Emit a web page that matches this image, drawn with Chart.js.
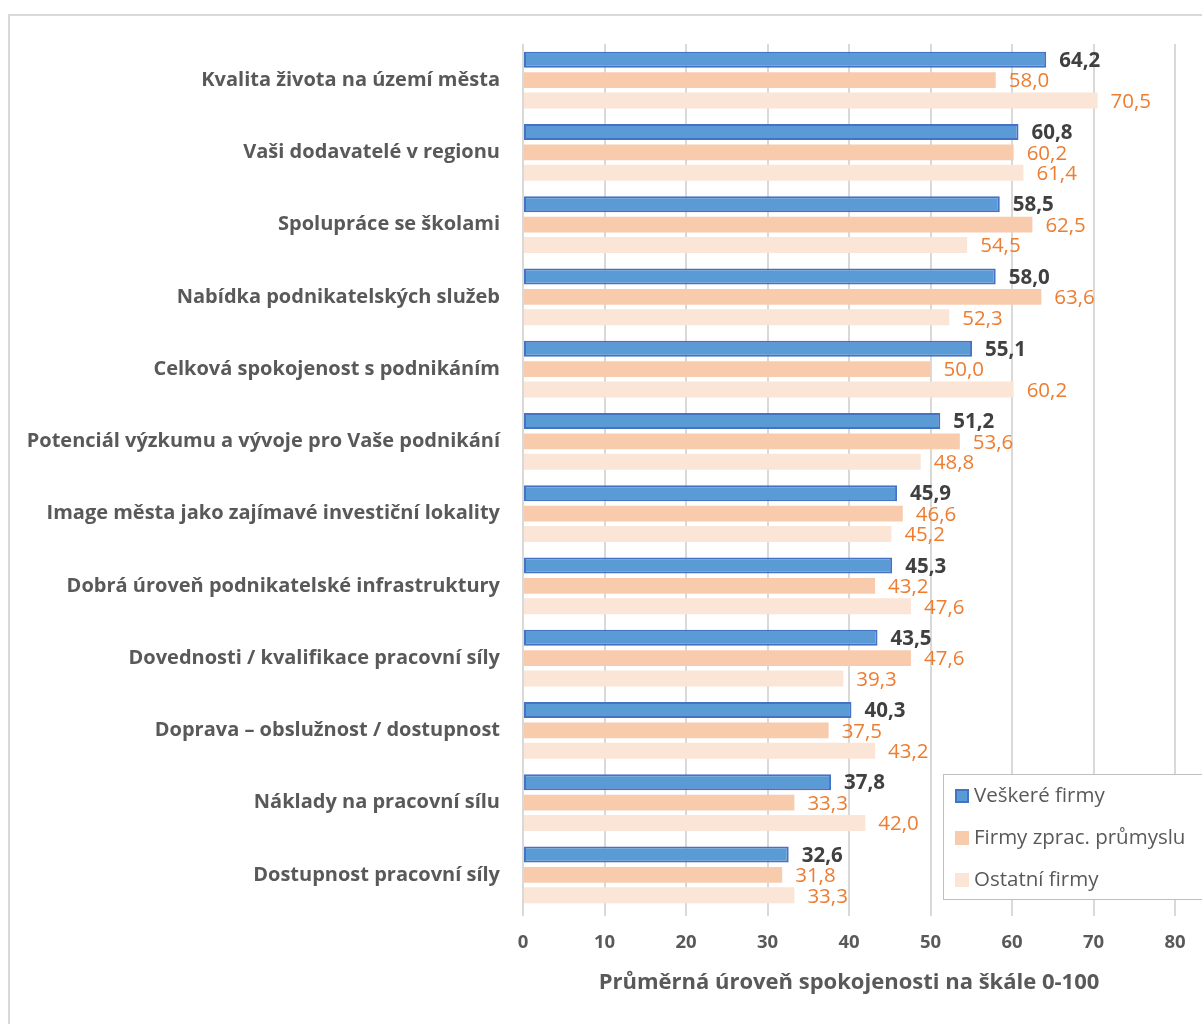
<!DOCTYPE html>
<html>
<head>
<meta charset="utf-8">
<script src="https://cdn.jsdelivr.net/npm/chart.js@4.4.0/dist/chart.umd.min.js"></script>
<style>
html,body{margin:0;padding:0;background:#fff;}
canvas{display:block;}
</style>
</head>
<body>
<canvas id="c" width="1202" height="1024"></canvas>
<script>
const categories = [
  "Kvalita života na území města",
  "Vaši dodavatelé v regionu",
  "Spolupráce se školami",
  "Nabídka podnikatelských služeb",
  "Celková spokojenost s podnikáním",
  "Potenciál výzkumu a vývoje pro Vaše podnikání",
  "Image města jako zajímavé investiční lokality",
  "Dobrá úroveň podnikatelské infrastruktury",
  "Dovednosti / kvalifikace pracovní síly",
  "Doprava – obslužnost / dostupnost",
  "Náklady na pracovní sílu",
  "Dostupnost pracovní síly"
];
const seriesNames = ["Veškeré firmy", "Firmy zprac. průmyslu", "Ostatní firmy"];
const vsechnyFirmy = [64.2, 60.8, 58.5, 58.0, 55.1, 51.2, 45.9, 45.3, 43.5, 40.3, 37.8, 32.6];
const zpracPrumysl = [58.0, 60.2, 62.5, 63.6, 50.0, 53.6, 46.6, 43.2, 47.6, 37.5, 33.3, 31.8];
const ostatniFirmy = [70.5, 61.4, 54.5, 52.3, 60.2, 48.8, 45.2, 47.6, 39.3, 43.2, 42.0, 33.3];
const xTicks = [0, 10, 20, 30, 40, 50, 60, 70, 80];
const axisTitle = "Průměrná úroveň spokojenosti na škále 0-100";

const FONT = "'Open Sans', 'DejaVu Sans', sans-serif";
const GREY = "#595959";

const outerBorder = {
  id: 'outerBorder',
  beforeDraw(chart) {
    const ctx = chart.ctx;
    ctx.save();
    ctx.fillStyle = '#fff';
    ctx.fillRect(0, 0, chart.width, chart.height);
    ctx.strokeStyle = '#D9D9D9';
    ctx.lineWidth = 2;
    ctx.strokeRect(9, 15, chart.width + 20, chart.height + 20);
    ctx.restore();
  }
};

const valueLabels = {
  id: 'valueLabels',
  afterDatasetsDraw(chart) {
    const ctx = chart.ctx;
    ctx.save();
    ctx.textBaseline = 'middle';
    ctx.textAlign = 'left';
    chart.data.datasets.forEach((ds, di) => {
      const meta = chart.getDatasetMeta(di);
      meta.data.forEach((el, i) => {
        const v = ds.data[i];
        const txt = v.toFixed(1).replace('.', ',');
        if (di === 0) {
          ctx.font = "bold 20.5px " + FONT;
          ctx.fillStyle = '#404040';
        } else {
          ctx.font = "20.5px " + FONT;
          ctx.fillStyle = '#ED7D31';
        }
        ctx.fillText(txt, el.x + 13, el.y + 1.5);
      });
    });
    ctx.restore();
  }
};

const customLegend = {
  id: 'customLegend',
  afterDraw(chart) {
    const ctx = chart.ctx;
    ctx.save();
    const bx = 943, by = 774, bw = 260, bh = 126;
    ctx.fillStyle = '#fff';
    ctx.fillRect(bx, by, bw, bh);
    ctx.strokeStyle = '#BFBFBF';
    ctx.lineWidth = 1;
    ctx.strokeRect(bx + 0.5, by + 0.5, bw - 1, bh - 1);
    ctx.font = "20.5px " + FONT;
    ctx.textBaseline = 'middle';
    ctx.textAlign = 'left';
    chart.data.datasets.forEach((ds, i) => {
      const cy = 796 + i * 42;
      ctx.fillStyle = ds.backgroundColor;
      ctx.fillRect(955, cy - 7, 14, 14);
      if (ds.borderWidth) {
        ctx.strokeStyle = ds.borderColor;
        ctx.lineWidth = 2;
        ctx.strokeRect(956, cy - 6, 12, 12);
      }
      ctx.fillStyle = GREY;
      ctx.fillText(ds.label, 974, cy);
    });
    ctx.restore();
  }
};

new Chart(document.getElementById('c'), {
  type: 'bar',
  data: {
    labels: categories,
    datasets: [
      { label: seriesNames[0], data: vsechnyFirmy, backgroundColor: '#5B9BD5', borderColor: '#4472C4', borderWidth: 2, borderSkipped: false },
      { label: seriesNames[1], data: zpracPrumysl, backgroundColor: '#F8CBAD', borderWidth: 0 },
      { label: seriesNames[2], data: ostatniFirmy, backgroundColor: '#FBE5D6', borderWidth: 0 }
    ]
  },
  options: {
    responsive: false,
    animation: false,
    indexAxis: 'y',
    layout: { padding: { top: 44, right: 27, left: 0, bottom: 24 } },
    datasets: { bar: { categoryPercentage: 0.85, barPercentage: 0.78 } },
    plugins: {
      legend: { display: false },
      tooltip: { enabled: false }
    },
    scales: {
      x: {
        min: 0, max: 80,
        afterBuildTicks(scale) { scale.ticks = xTicks.map(v => ({ value: v })); },
        afterFit(scale) { scale.height = 89; },
        border: { display: false },
        grid: { color: '#D9D9D9', lineWidth: 2, drawTicks: true, tickLength: 5 },
        ticks: { color: GREY, font: { family: FONT, size: 18.5, weight: 'bold' }, padding: 16 },
        title: { display: true, text: axisTitle, color: GREY, font: { family: FONT, size: 22, weight: 'bold' }, padding: { top: 10, bottom: 4 } }
      },
      y: {
        afterFit(scale) { scale.width = 523; },
        border: { display: false },
        grid: { display: false },
        ticks: { color: GREY, font: { family: FONT, size: 20, weight: 'bold' }, padding: 15 }
      }
    }
  },
  plugins: [outerBorder, valueLabels, customLegend]
});
</script>
</body>
</html>
